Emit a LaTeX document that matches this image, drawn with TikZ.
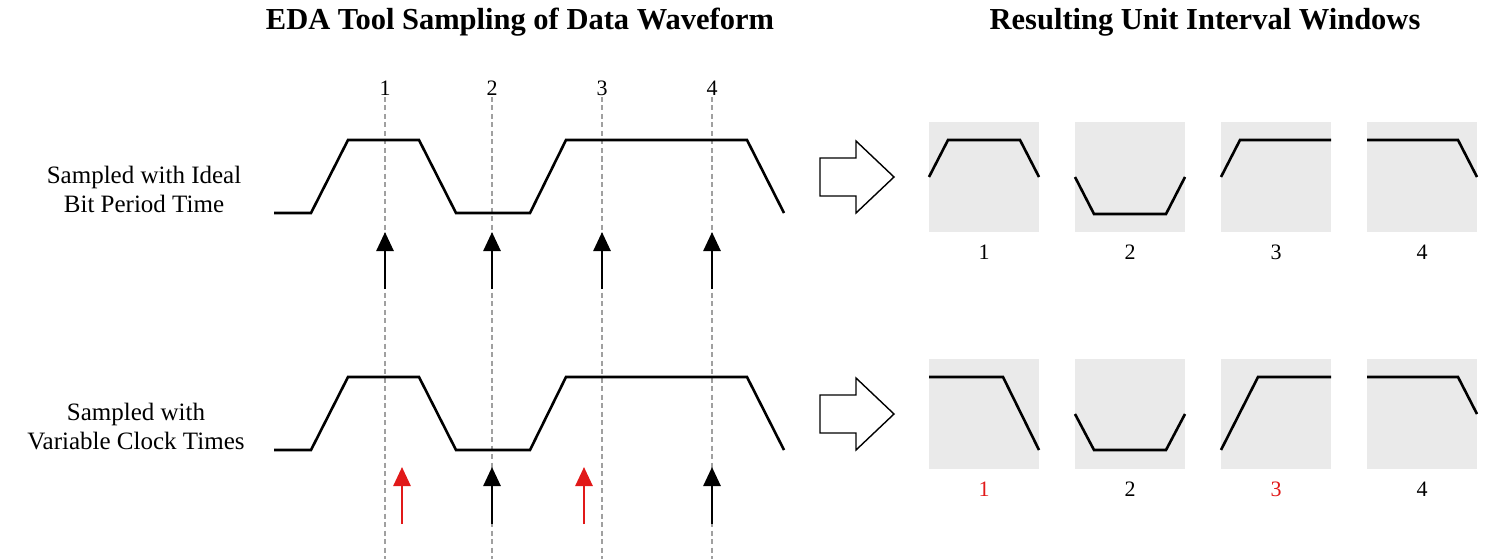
\documentclass[tikz,border=0pt]{standalone}
\usepackage{fontspec}
\setmainfont{Liberation Serif}
\usetikzlibrary{arrows.meta}
\definecolor{boxgray}{RGB}{234,234,234}
\definecolor{probegray}{RGB}{160,160,160}
\definecolor{skewred}{RGB}{225,25,25}

\begin{document}
\begin{tikzpicture}[x=1pt,y=-1pt]
		\tikzstyle{wave}=[line width=2.6pt, line join=miter]
		\tikzstyle{probe}=[probegray, line width=1.1pt, dash pattern=on 5pt off 3.5pt]
		\tikzstyle{sample}=[line width=2.6pt, -{Triangle[width=17pt,length=19pt]}]
		\tikzstyle{hollow}=[line width=1.4pt, fill=white]
		\tikzstyle{num}=[font=\fontsize{22}{26}\selectfont]
		\tikzstyle{title}=[font=\fontsize{30.5}{36}\selectfont\bfseries]
		\tikzstyle{side}=[font=\fontsize{25}{29}\selectfont, align=center]
		\useasboundingbox (0,0) rectangle (1491,559);

		\node[title] (lefttitle) at (520,22) {EDA Tool Sampling of Data Waveform};
		\node[title] (righttitle) at (1205,22) {Resulting Unit Interval Windows};
		\node[side] (ideal) at (144,189) {Sampled with Ideal\\Bit Period Time};
		\node[side] (variable) at (136,427) {Sampled with\\Variable Clock Times};

		\foreach \x/\n in {385/1, 492/2, 602/3, 712/4}{
			\node[num] (p\n) at (\x,88) {\n};
			\draw[probe] (\x,97)--(\x,559);
		}

		\draw[wave] (274,213)--(311,213)--(348,140)--(419,140)--(456,213)--(530,213)--(566,140)--(747,140)--(784,213);
		\draw[wave] (274,450)--(311,450)--(348,377)--(419,377)--(456,450)--(530,450)--(566,377)--(747,377)--(784,450);

		\foreach \x/\n in {385/1, 492/2, 602/3, 712/4}{
			\coordinate (a\n) at (\x,289);
			\coordinate (b\n) at (\x,232);
			\draw[sample] (a\n)--(b\n);
		}
		\foreach \x/\n/\c in {402/1/skewred, 492/2/black, 584/3/skewred, 712/4/black}{
			\coordinate (c\n) at (\x,524);
			\coordinate (d\n) at (\x,467);
			\draw[sample, \c] (c\n)--(d\n);
		}

		\draw[hollow] (820,158)--(856,158)--(856,141)--(894,177)--(856,213)--(856,196)--(820,196)--cycle;
		\draw[hollow] (820,395)--(856,395)--(856,378)--(894,414)--(856,450)--(856,433)--(820,433)--cycle;

		\foreach \l/\n in {929/1, 1075/2, 1221/3, 1367/4}{
			\fill[boxgray] (\l,122) rectangle +(110,110);
			\fill[boxgray] (\l,359) rectangle +(110,110);
			\node[num] (w\n) at (\l+55,252) {\n};
		}
		\node[num, skewred] (v1) at (984,489) {1};
		\node[num] (v2) at (1130,489) {2};
		\node[num, skewred] (v3) at (1276,489) {3};
		\node[num] (v4) at (1422,489) {4};

		\draw[wave] (929,177)--(948,140)--(1020,140)--(1039,177);
		\draw[wave] (1075,177)--(1094,214)--(1166,214)--(1185,177);
		\draw[wave] (1221,177)--(1240,140)--(1331,140);
		\draw[wave] (1367,140)--(1458,140)--(1477,177);

		\draw[wave] (929,377)--(1003,377)--(1039,450);
		\draw[wave] (1075,414)--(1094,450)--(1166,450)--(1185,414);
		\draw[wave] (1221,450)--(1258,377)--(1331,377);
		\draw[wave] (1367,377)--(1458,377)--(1477,414);
	\end{tikzpicture}
\end{document}
